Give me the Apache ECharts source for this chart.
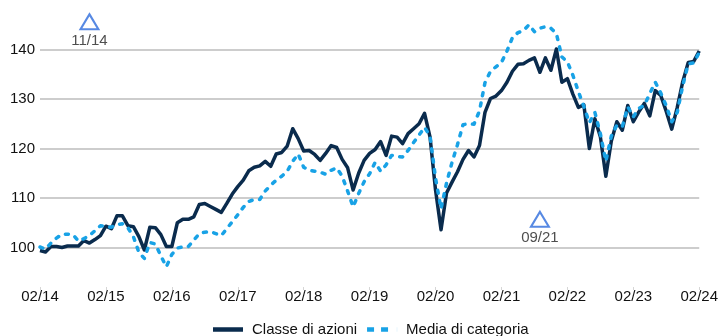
<!DOCTYPE html>
<html>
<head>
<meta charset="utf-8">
<script src="https://cdn.jsdelivr.net/npm/echarts@6/dist/echarts.min.js"></script>
<style>
  html, body { margin: 0; padding: 0; background: #ffffff; }
  #chart { width: 721px; height: 336px; }
</style>
</head>
<body>
<div id="chart"></div>
<script>
// Monthly categories, 02/14 .. 02/24
const months = [];
for (let k = 0; k <= 120; k++) {
  const m = ((1 + k) % 12) + 1;
  const y = 14 + Math.floor((1 + k) / 12);
  months.push(String(m).padStart(2, '0') + '/' + String(y).padStart(2, '0'));
}

// Share class, rebased to 100
const classeDiAzioni = [
  99.4, 99.1, 100.2, 100.2, 100.0, 100.3, 100.3, 100.3, 101.4, 100.9, 101.6, 102.4,
  104.3, 103.8, 106.4, 106.4, 104.4, 104.2, 102.2, 99.5, 104.1, 104.0, 102.6, 100.2,
  100.2, 105.0, 105.7, 105.7, 106.2, 108.7, 108.9, 108.3, 107.7, 107.1, 108.9, 110.8,
  112.3, 113.6, 115.5, 116.2, 116.5, 117.4, 116.4, 118.9, 119.2, 120.5, 124.0, 122.0,
  119.5, 119.6, 118.8, 117.6, 119.0, 120.6, 120.2, 117.8, 116.1, 111.6, 115.0, 117.6,
  119.0, 119.8, 121.4, 118.6, 122.5, 122.3, 121.0, 123.0, 124.0, 125.0, 127.1, 122.3,
  111.6, 103.6, 111.0, 113.2, 115.3, 117.8, 119.6, 118.3, 120.6, 127.3, 130.1, 130.6,
  131.7, 133.4, 135.6, 137.0, 137.1, 137.8, 138.3, 135.4, 138.3, 135.8, 140.1, 133.4,
  134.1, 131.0, 128.3, 128.8, 120.0, 126.0, 122.4, 114.4, 121.5, 125.4, 123.7, 128.7,
  125.4, 127.4, 129.1, 126.6, 131.7, 130.7, 127.5, 123.9, 128.3, 133.5, 137.4, 137.6,
  139.7
];

// Category average, rebased to 100
const mediaDiCategoria = [
  100.1, 99.7, 100.9, 101.9, 102.7, 102.7, 102.6, 101.3, 101.8, 102.4, 103.4, 104.4,
  104.2, 104.1, 104.6, 104.8, 104.0, 102.2, 99.0, 97.8, 101.0, 100.7, 98.3, 96.1,
  98.6, 99.9, 100.1, 100.2, 101.5, 102.8, 103.1, 103.2, 102.8, 102.4, 103.8, 105.2,
  106.6, 108.1, 109.3, 109.7, 109.7, 111.4, 112.6, 113.6, 114.4, 115.4, 117.4, 118.9,
  116.2, 115.6, 115.4, 115.2, 114.8, 115.6, 116.1, 114.4, 111.4, 108.2, 110.9, 113.3,
  114.9, 117.2, 115.4, 116.7, 118.6, 118.4, 118.3, 119.6, 121.2, 122.7, 124.3, 122.5,
  114.0, 107.8, 113.0, 117.2, 120.8, 124.8, 125.0, 124.9, 127.6, 133.3, 135.6, 136.5,
  137.4, 139.7, 142.4, 143.4, 143.8, 145.0, 143.6, 144.3, 144.6, 144.3, 143.2, 138.5,
  137.5, 134.8, 131.5, 128.5, 125.2, 127.3, 123.0, 117.4, 122.5, 124.7, 124.4, 128.4,
  126.4, 128.1, 128.7, 131.1, 133.4, 131.2, 128.6, 125.4, 127.3, 132.7, 137.1, 137.3,
  139.4
];

// Event markers (month, level)
const eventMonths = ['11/14', '09/21'];
const eventLevels = [145.6, 105.7];

const yTicks = [100, 110, 120, 130, 140];

const FONT = '"Liberation Sans", Arial, Helvetica, sans-serif';
const NAVY = '#0a2b4d';
const SKY = '#18a2e6';
const GRID = '#cdcdcd';

// Legend swatches: solid bar and two short dashes
const ICON_SOLID = 'path://M0,0H30V4.5H0Z';
const ICON_DASHED = 'path://M0,0H7V4.5H0Z M14,0H21V4.5H14Z M29.9,0H30V4.5H29.9Z';

const chart = echarts.init(document.getElementById('chart'), null, { renderer: 'canvas' });

chart.setOption({
  animation: false,
  backgroundColor: '#ffffff',
  textStyle: { fontFamily: FONT },
  grid: { left: 40, right: 18, top: -3, bottom: 39, containLabel: false },
  legend: {
    data: [
      { name: 'Classe di azioni', icon: ICON_SOLID },
      { name: 'Media di categoria', icon: ICON_DASHED }
    ],
    left: 213,
    top: 322,
    padding: 0,
    itemWidth: 30,
    itemHeight: 4.5,
    itemGap: 10,
    textStyle: { fontFamily: FONT, fontSize: 15, color: '#111111', padding: [0, 0, 0, 4] }
  },
  xAxis: {
    type: 'category',
    data: months,
    boundaryGap: false,
    offset: -7,
    axisLine: { show: false },
    axisTick: { show: true, inside: true, length: 3, interval: 11, lineStyle: { color: '#d6d6d6' } },
    axisLabel: { interval: 11, margin: -1, fontFamily: FONT, fontSize: 15, color: '#111111' },
    splitLine: { show: false }
  },
  yAxis: {
    type: 'value',
    min: 90,
    max: 150,
    interval: 10,
    axisLine: { show: false },
    axisTick: { show: false },
    axisLabel: {
      margin: 5,
      fontFamily: FONT,
      fontSize: 15,
      color: '#111111',
      formatter: v => (yTicks.indexOf(v) >= 0 ? String(v) : '')
    },
    splitLine: {
      show: true,
      lineStyle: {
        width: 2,
        color: ['rgba(0,0,0,0)', GRID, GRID, GRID, GRID, GRID, 'rgba(0,0,0,0)']
      }
    }
  },
  series: [
    {
      name: 'Classe di azioni',
      type: 'line',
      data: classeDiAzioni,
      symbol: 'none',
      lineStyle: { color: NAVY, width: 3.5, join: 'round' },
      itemStyle: { color: NAVY },
      z: 2
    },
    {
      name: 'Media di categoria',
      type: 'line',
      data: mediaDiCategoria,
      symbol: 'none',
      lineStyle: { color: SKY, width: 3.5, type: [3, 7.5], cap: 'round', join: 'round' },
      itemStyle: { color: SKY },
      z: 3
    },
    {
      name: 'eventi',
      type: 'scatter',
      data: eventMonths.map((m, i) => ({ name: m, value: [m, eventLevels[i]] })),
      symbol: 'triangle',
      symbolSize: [18, 15],
      itemStyle: { color: '#ffffff', borderColor: '#2d6cdc', borderWidth: 2 },
      label: {
        show: true,
        position: 'bottom',
        distance: 3,
        formatter: p => p.name,
        fontFamily: FONT,
        fontSize: 15,
        color: '#222222'
      },
      emphasis: { disabled: true },
      z: 4
    }
  ]
});
</script>
</body>
</html>
